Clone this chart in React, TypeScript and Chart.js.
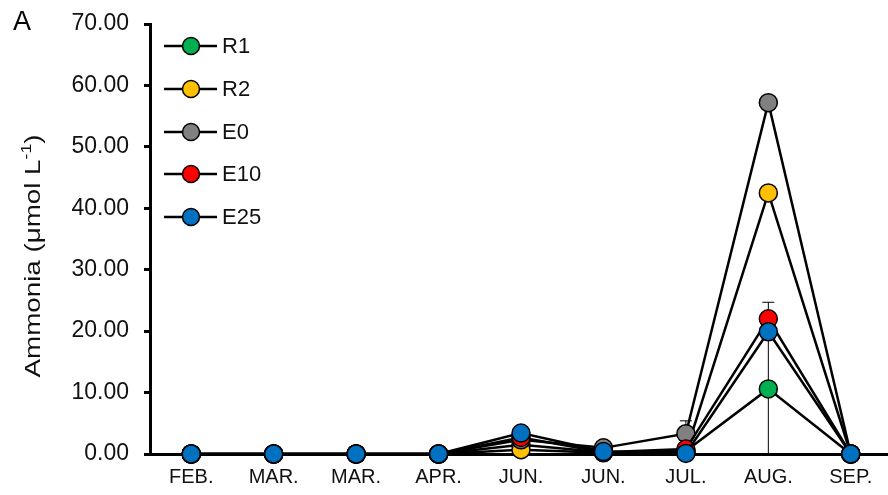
import React, { useEffect, useRef } from "react";
import { Chart, registerables } from "chart.js";

Chart.register(...registerables);

const categories = ["FEB.", "MAR.", "MAR.", "APR.", "JUN.", "JUN.", "JUL.", "AUG.", "SEP."];
const r1 = [0, 0, 0, 0, 1.5, 0.3, 0.5, 10.6, 0];
const r2 = [0, 0, 0, 0, 0.7, 0.2, 0.3, 42.5, 0];
const e0 = [0, 0, 0, 0, 2.3, 1.0, 3.3, 57.2, 0];
const e10 = [0, 0, 0, 0, 2.7, 0.3, 0.8, 22.0, 0];
const e25 = [0, 0, 0, 0, 3.4, 0.4, 0.1, 19.9, 0];
const r1Err = [0, 0, 0, 0, 0, 0, 0, 10.6, 0];
const r2Err = [0, 0, 0, 0, 0, 0, 0, 0, 0];
const e0Err = [0, 0, 0, 0, 0, 0, 2.1, 0, 0];
const e10Err = [0, 0, 0, 0, 0, 0, 0, 2.7, 0];
const e25Err = [0, 0, 0, 0, 0, 0, 0, 0, 0];
const seriesNames = ["R1", "R2", "E0", "E10", "E25"];
const seriesColors = ["#00B050", "#FFC000", "#808080", "#FF0000", "#0070C0"];
const yTicks = [0, 10, 20, 30, 40, 50, 60, 70];

const FONT = "'Liberation Sans', Arial, sans-serif";
const CANVAS_W = 892;

export default function App() {
  const ref = useRef<HTMLCanvasElement>(null);
  useEffect(() => {
    const values = [r1, r2, e0, e10, e25];
    const errs = [r1Err, r2Err, e0Err, e10Err, e25Err];
    const datasets = values.map((d, i) => ({
      label: seriesNames[i],
      data: d,
      borderColor: "#000",
      borderWidth: 2.5,
      backgroundColor: seriesColors[i],
      pointBackgroundColor: seriesColors[i],
      pointBorderColor: "#000",
      pointBorderWidth: 1.5,
      pointRadius: 9,
      tension: 0,
      clip: false as any,
      order: 5 - i,
    }));

    const extras = {
      id: "extras",
      beforeDatasetsDraw(chart: any) {
        const ctx = chart.ctx;
        const xs = chart.scales.x;
        const ys = chart.scales.y;
        ctx.save();
        ctx.strokeStyle = "#000";
        ctx.lineWidth = 1;
        errs.forEach((arr, si) => {
          arr.forEach((e, ci) => {
            if (!e) return;
            const v = values[si][ci];
            const x = xs.getPixelForValue(ci);
            const yt = ys.getPixelForValue(v + e);
            const yb = ys.getPixelForValue(Math.max(0, v - e));
            ctx.beginPath();
            ctx.moveTo(x, yt);
            ctx.lineTo(x, yb);
            ctx.moveTo(x - 6, yt);
            ctx.lineTo(x + 6, yt);
            ctx.moveTo(x - 6, yb);
            ctx.lineTo(x + 6, yb);
            ctx.stroke();
          });
        });
        ctx.restore();
      },
      afterDraw(chart: any) {
        const ctx = chart.ctx;
        ctx.save();
        // panel letter
        ctx.fillStyle = "#000";
        ctx.font = `27px ${FONT}`;
        ctx.textAlign = "left";
        ctx.textBaseline = "alphabetic";
        ctx.fillText("A", 13, 30);
        // y title with superscript
        ctx.translate(32, 256);
        ctx.rotate(-Math.PI / 2);
        const mainFont = `22px ${FONT}`;
        const supFont = `14px ${FONT}`;
        const p1 = "Ammonia (\u03bcmol L";
        const p2 = "-1";
        const p3 = ")";
        ctx.font = mainFont;
        const w1 = ctx.measureText(p1).width;
        const w3 = ctx.measureText(p3).width;
        ctx.font = supFont;
        const w2 = ctx.measureText(p2).width;
        const total = w1 + w2 + w3;
        ctx.scale(243 / total, 1);
        const x0 = -total / 2;
        ctx.fillStyle = "#111";
        ctx.textBaseline = "alphabetic";
        ctx.font = mainFont;
        ctx.fillText(p1, x0, 8);
        ctx.font = supFont;
        ctx.fillText(p2, x0 + w1, -1);
        ctx.font = mainFont;
        ctx.fillText(p3, x0 + w1 + w2, 8);
        ctx.restore();

        // legend
        ctx.save();
        const rows = [46, 89, 132, 174, 217];
        seriesNames.forEach((n, i) => {
          const y = rows[i];
          ctx.strokeStyle = "#000";
          ctx.lineWidth = 2.5;
          ctx.beginPath();
          ctx.moveTo(164, y);
          ctx.lineTo(217, y);
          ctx.stroke();
          ctx.beginPath();
          ctx.arc(191, y, 8.5, 0, Math.PI * 2);
          ctx.fillStyle = seriesColors[i];
          ctx.fill();
          ctx.lineWidth = 1.5;
          ctx.stroke();
          ctx.fillStyle = "#111";
          ctx.font = `22px ${FONT}`;
          ctx.textAlign = "left";
          ctx.textBaseline = "middle";
          ctx.fillText(n, 222, y + 1);
        });
        ctx.restore();
      },
    };

    const chart = new Chart(ref.current as HTMLCanvasElement, {
      type: "line",
      data: { labels: categories, datasets: datasets as any },
      options: {
        animation: false,
        responsive: false,
        layout: { autoPadding: false, padding: { top: 24, right: 0, left: 0, bottom: 0 } },
        plugins: { legend: { display: false }, tooltip: { enabled: false } },
        scales: {
          x: {
            offset: true,
            grid: { display: true, drawOnChartArea: false, drawTicks: false, offset: true },
            border: { color: "#000", width: 3 },
            ticks: { color: "#111", font: { size: 20, family: FONT }, padding: 11, maxRotation: 0, autoSkip: false },
            afterFit: (s: any) => { s.height = 41; s.paddingRight = 0; s.paddingLeft = 0; },
          },
          y: {
            min: 0,
            max: 70,
            afterBuildTicks: (s: any) => { s.ticks = yTicks.map((v) => ({ value: v })); },
            grid: { drawOnChartArea: false, drawTicks: true, tickLength: 6, tickWidth: 3, tickColor: "#000" },
            border: { color: "#000", width: 3 },
            ticks: {
              color: "#111",
              font: { size: 23, family: FONT },
              padding: 15,
              callback: (v: any) => Number(v).toFixed(2),
            },
            afterFit: (s: any) => { s.width = 150; s.paddingTop = 0; s.paddingBottom = 0; },
          },
        },
      },
      plugins: [extras],
    });
    return () => chart.destroy();
  }, []);

  return (
    <div style={{ position: "fixed", left: 0, top: 0, width: 888, height: 495, overflow: "hidden", background: "#fff" }}>
      <canvas ref={ref} width={CANVAS_W} height={495} style={{ width: CANVAS_W, height: 495, display: "block" }} />
    </div>
  );
}
